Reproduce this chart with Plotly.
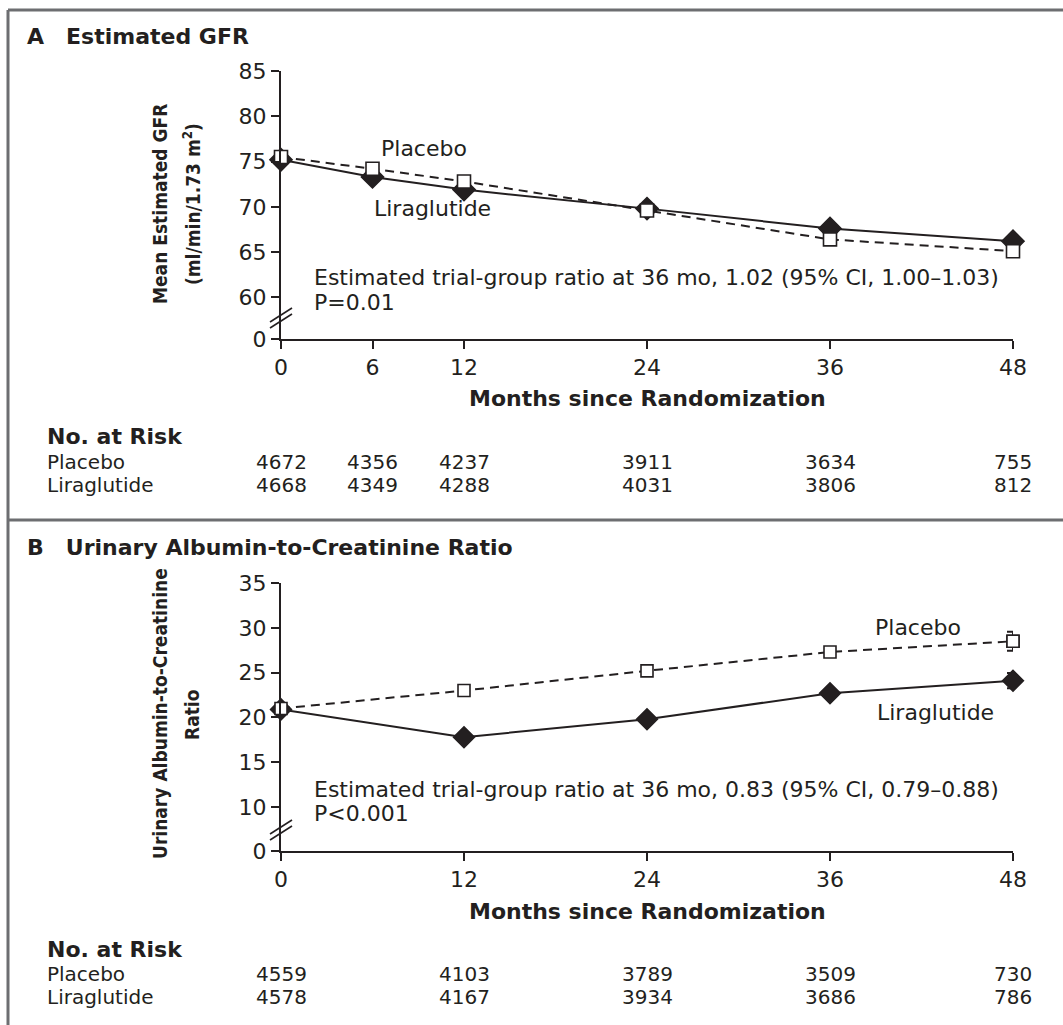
import plotly.graph_objects as go

# ---------------- data ----------------
months_a = [0, 6, 12, 24, 36, 48]
gfr_placebo = [75.5, 74.2, 72.8, 69.6, 66.4, 65.1]
gfr_liraglutide = [75.2, 73.3, 71.9, 69.8, 67.6, 66.2]

months_b = [0, 12, 24, 36, 48]
uacr_placebo = [21.0, 23.0, 25.2, 27.3, 28.5]
uacr_liraglutide = [20.9, 17.8, 19.8, 22.7, 24.1]
uacr_placebo_err48 = 1.05
uacr_liraglutide_err48 = 0.85

risk_a_placebo = [4672, 4356, 4237, 3911, 3634, 755]
risk_a_liraglutide = [4668, 4349, 4288, 4031, 3806, 812]
risk_b_placebo = [4559, 4103, 3789, 3509, 730]
risk_b_liraglutide = [4578, 4167, 3934, 3686, 786]

ticks_a_vals = [55.4, 60, 65, 70, 75, 80, 85]
ticks_a_text = ["0", "60", "65", "70", "75", "80", "85"]
ticks_b_vals = [5.1, 10, 15, 20, 25, 30, 35]
ticks_b_text = ["0", "10", "15", "20", "25", "30", "35"]

# ---------------- layout helpers ----------------
W, H = 1063, 1025
def X(px):
    return px / W
def Y(py):
    return 1 - py / H

INK = "#231f20"
FONT = "DejaVu Sans"
COND = "Liberation Sans Narrow, DejaVu Sans Condensed, Arial Narrow"
FS = 22
TS = 20

fig = go.Figure()

def add_series(xs, ys, xa, ya, dashed, symbol, size):
    fig.add_trace(go.Scatter(
        x=xs, y=ys, xaxis=xa, yaxis=ya, mode="lines+markers",
        line=dict(color=INK, width=2, dash="9px,6px" if dashed else "solid"),
        marker=dict(symbol=symbol, size=size,
                    color="white" if dashed else INK,
                    line=dict(color=INK, width=1.6)),
        cliponaxis=False, showlegend=False, hoverinfo="skip"))

# Panel A
add_series(months_a, gfr_liraglutide, "x", "y", False, "diamond", 17)
add_series(months_a, gfr_placebo, "x", "y", True, "square", 13)

# Panel B error bars (48 mo) then series
fig.add_trace(go.Scatter(
    x=[months_b[-1]], y=[uacr_liraglutide[-1]], xaxis="x2", yaxis="y2", mode="markers",
    marker=dict(symbol="diamond", size=16, color=INK),
    error_y=dict(type="data", array=[uacr_liraglutide_err48], color=INK, thickness=2, width=6),
    cliponaxis=False, showlegend=False, hoverinfo="skip"))
fig.add_trace(go.Scatter(
    x=[months_b[-1]], y=[uacr_placebo[-1]], xaxis="x2", yaxis="y2", mode="markers",
    marker=dict(symbol="square", size=12, color="white", line=dict(color=INK, width=1.6)),
    error_y=dict(type="data", array=[uacr_placebo_err48], color=INK, thickness=2, width=6),
    cliponaxis=False, showlegend=False, hoverinfo="skip"))
add_series(months_b, uacr_liraglutide, "x2", "y2", False, "diamond", 16)
add_series(months_b, uacr_placebo, "x2", "y2", True, "square", 12)

axis_common = dict(showline=True, linecolor=INK, linewidth=2, ticks="outside",
                   ticklen=8, tickwidth=2, tickcolor=INK, showgrid=False, zeroline=False,
                   tickfont=dict(family=FONT, size=FS, color=INK), fixedrange=True)

fig.update_layout(
    width=W, height=H, margin=dict(l=0, r=0, t=0, b=0, autoexpand=False),
    paper_bgcolor="white", plot_bgcolor="white",
    xaxis=dict(domain=[X(281), X(1013)], range=[0, 48], tickvals=months_a,
               anchor="y", **axis_common),
    yaxis=dict(domain=[Y(339), Y(71)], range=[55.4, 85], tickvals=ticks_a_vals,
               ticktext=ticks_a_text, anchor="x", **axis_common),
    xaxis2=dict(domain=[X(281), X(1013)], range=[0, 48], tickvals=months_b,
                anchor="y2", **axis_common),
    yaxis2=dict(domain=[Y(851), Y(583)], range=[5.1, 35], tickvals=ticks_b_vals,
                ticktext=ticks_b_text, anchor="x2", **axis_common),
)

ann = []
def text(x, y, s, size=FS, bold=False, xanchor="center", family=FONT, xref="paper", angle=0):
    ann.append(dict(x=x, y=y, xref=xref, yref="paper", text=("<b>%s</b>" % s) if bold else s,
                    showarrow=False, xanchor=xanchor, yanchor="middle", textangle=angle,
                    font=dict(family=family, size=size, color=INK)))

# Panel titles
text(X(25), Y(36), "A\u2003Estimated GFR", bold=True, xanchor="left")
text(X(25), Y(547), "B\u2003Urinary Albumin-to-Creatinine Ratio", bold=True, xanchor="left")

# Y axis titles (two lines each)
text(X(160), Y(204), "Mean Estimated GFR", size=19, bold=True, family=COND, angle=-90)
text(X(192), Y(204), "(ml/min/1.73 m<sup>2</sup>)", size=19, bold=True, family=COND, angle=-90)
text(X(160), Y(714), "Urinary Albumin-to-Creatinine", size=19, bold=True, family=COND, angle=-90)
text(X(192), Y(715), "Ratio", size=19, bold=True, family=COND, angle=-90)

# X axis titles
text(X(647), Y(398), "Months since Randomization", bold=True)
text(X(647), Y(911), "Months since Randomization", bold=True)

# Series labels
text(X(424), Y(148), "Placebo")
text(X(432), Y(209), "Liraglutide")
text(X(918), Y(627), "Placebo")
text(X(935), Y(712), "Liraglutide")

# Statistics text
text(X(312), Y(277), "Estimated trial-group ratio at 36 mo, 1.02 (95% CI, 1.00\u20131.03)", xanchor="left")
text(X(312), Y(302), "P=0.01", xanchor="left")
text(X(312), Y(789), "Estimated trial-group ratio at 36 mo, 0.83 (95% CI, 0.79\u20130.88)", xanchor="left")
text(X(312), Y(813), "P&lt;0.001", xanchor="left")

# Risk tables
def risk_table(top, months, plac, lira, xref):
    text(X(45), Y(top), "No. at Risk", bold=True, xanchor="left")
    text(X(45), Y(top + 25), "Placebo", size=TS, xanchor="left")
    text(X(45), Y(top + 48), "Liraglutide", size=TS, xanchor="left")
    for m, p, l in zip(months, plac, lira):
        text(m, Y(top + 25), str(p), size=TS, xref=xref)
        text(m, Y(top + 48), str(l), size=TS, xref=xref)

risk_table(437, months_a, risk_a_placebo, risk_a_liraglutide, "x")
risk_table(949, months_b, risk_b_placebo, risk_b_liraglutide, "x2")

fig.update_layout(annotations=ann)

# Frame lines and axis break marks
shapes = []
FR = "#6d6e71"
shapes.append(dict(type="line", xref="paper", yref="paper", x0=X(8), x1=1.0, y0=Y(10), y1=Y(10),
                   line=dict(color=FR, width=3)))
shapes.append(dict(type="line", xref="paper", yref="paper", x0=X(8), x1=X(8), y0=Y(10), y1=0,
                   line=dict(color=FR, width=3)))
shapes.append(dict(type="line", xref="paper", yref="paper", x0=X(8), x1=1.0, y0=Y(520), y1=Y(520),
                   line=dict(color=FR, width=3)))
for cy in (318, 830):
    for off in (-3, 3):
        shapes.append(dict(type="line", xref="paper", yref="paper",
                           x0=X(270), x1=X(292), y0=Y(cy + off + 7), y1=Y(cy + off - 7),
                           line=dict(color=INK, width=1.6)))
fig.update_layout(shapes=shapes)

fig.write_html("out.html", config={"displayModeBar": False},
               post_script="document.body.style.margin='0';document.body.style.overflow='hidden';")
